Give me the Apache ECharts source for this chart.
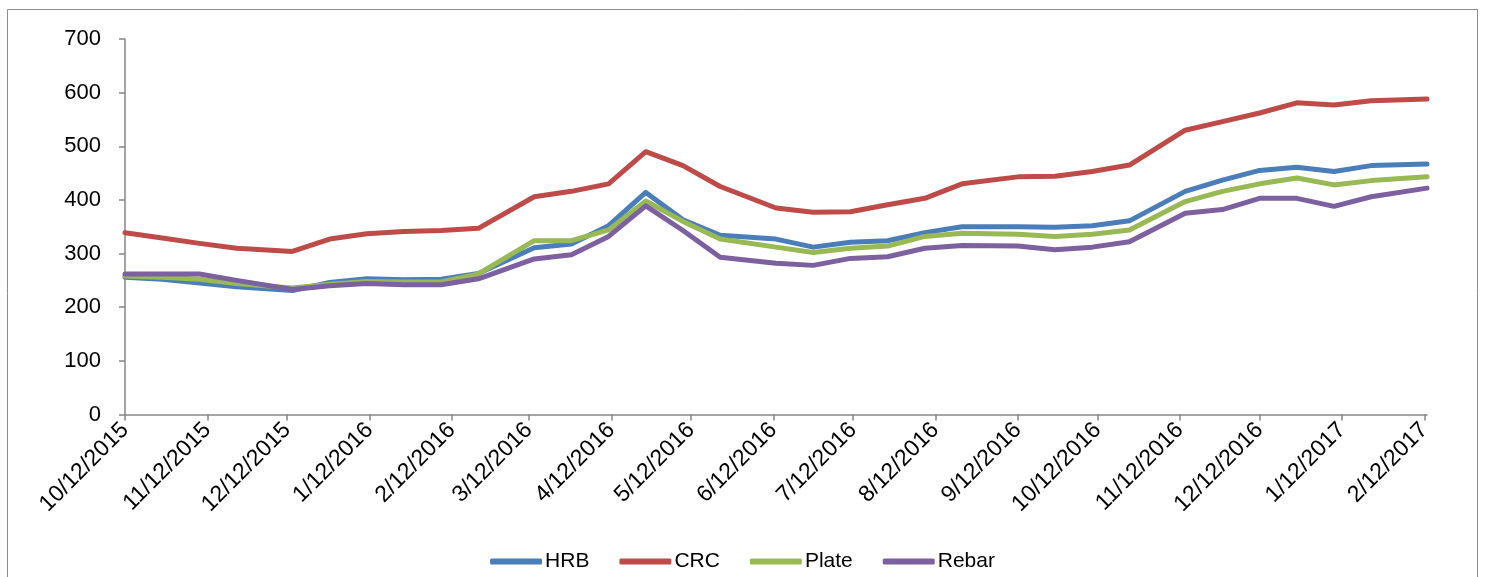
<!DOCTYPE html>
<html>
<head>
<meta charset="utf-8">
<script src="https://cdn.jsdelivr.net/npm/echarts@6/dist/echarts.min.js"></script>
<style>
html,body{margin:0;padding:0;background:#fff;}
#chart{width:1485px;height:577px;}
</style>
</head>
<body>
<div id="chart"></div>
<script>
// Observation dates (2nd and 4th Monday of each month)
const dates = ['2015-10-12','2015-10-26','2015-11-09','2015-11-23','2015-12-14','2015-12-28',
  '2016-01-11','2016-01-25','2016-02-08','2016-02-22','2016-03-14','2016-03-28',
  '2016-04-11','2016-04-25','2016-05-09','2016-05-23','2016-06-13','2016-06-27',
  '2016-07-11','2016-07-25','2016-08-08','2016-08-22','2016-09-12','2016-09-26',
  '2016-10-10','2016-10-24','2016-11-14','2016-11-28','2016-12-12','2016-12-26',
  '2017-01-09','2017-01-23','2017-02-13'];
const hrb   = [256,252,245,238,231,246,253,251,252,263,311,318,352,414,363,334,327,312,321,324,339,350,350,349,352,361,416,437,455,461,453,464,467];
const crc   = [339,329,319,310,304,327,337,341,343,347,406,416,430,490,464,425,385,377,378,391,403,430,443,444,453,465,530,546,562,581,577,585,588];
const plate = [258,256,252,244,236,243,248,247,247,262,324,324,344,398,360,327,312,302,310,314,332,338,336,332,336,344,397,416,430,441,428,436,443];
const rebar = [262,262,262,250,233,240,244,242,242,253,290,298,332,389,343,293,282,278,291,294,310,315,314,307,312,322,375,382,403,403,388,406,422];
const tickLabels = ['10/12/2015','11/12/2015','12/12/2015','1/12/2016','2/12/2016','3/12/2016','4/12/2016',
  '5/12/2016','6/12/2016','7/12/2016','8/12/2016','9/12/2016','10/12/2016','11/12/2016','12/12/2016',
  '1/12/2017','2/12/2017'];
const yTicks = [0,100,200,300,400,500,600,700];

function isoToTs(s){const p=s.split('-').map(Number);return Date.UTC(p[0],p[1]-1,p[2]);}
function mdyToTs(s){const p=s.split('/').map(Number);return Date.UTC(p[2],p[0]-1,p[1]);}
function fmt(ts){const d=new Date(ts);return (d.getUTCMonth()+1)+'/'+d.getUTCDate()+'/'+d.getUTCFullYear();}

const xs = dates.map(isoToTs);
const tickVals = tickLabels.map(mdyToTs);
const pair = arr => arr.map((v,i)=>[xs[i],v]);

const FONT = 'Liberation Sans';
const AXIS = '#868686';
const chart = echarts.init(document.getElementById('chart'), null, {renderer:'canvas'});
const lineSeries = (name, data, color) => ({
  name, type:'line', data: pair(data), showSymbol:false, symbol:'none',
  lineStyle:{width:5, color, join:'round', cap:'round'}, itemStyle:{color},
  animation:false
});
chart.setOption({
  animation:false,
  backgroundColor:'#fff',
  graphic:[{type:'rect', shape:{x:7.5,y:9.5,width:1470,height:600}, style:{fill:'none', stroke:'#8c8c8c', lineWidth:1}, silent:true}],
  grid:{left:125, right:58, top:39, bottom:162.5, containLabel:false},
  legend:{bottom:0, left:'center', icon:'roundRect', itemWidth:52, itemHeight:6, itemGap:30,
    textStyle:{fontFamily:FONT, fontSize:21, color:'#000', padding:[0,0,0,-2]},
    data:['HRB','CRC','Plate','Rebar']},
  xAxis:{type:'value', min:xs[0], max:xs[xs.length-1], splitLine:{show:false},
    axisLine:{lineStyle:{color:AXIS, width:1.5}},
    axisTick:{customValues:tickVals, length:6, lineStyle:{color:AXIS, width:1.5}},
    axisLabel:{customValues:tickVals, rotate:45, margin:12, formatter:fmt,
      fontFamily:FONT, fontSize:23, color:'#000'}},
  yAxis:{type:'value', min:0, max:700, interval:100, splitLine:{show:false},
    axisLine:{show:true, lineStyle:{color:AXIS, width:1.5}},
    axisTick:{show:true, length:6, lineStyle:{color:AXIS, width:1.5}},
    axisLabel:{customValues:yTicks, margin:24, fontFamily:FONT, fontSize:22, color:'#000'}},
  series:[
    lineSeries('HRB', hrb, '#4A7EBB'),
    lineSeries('CRC', crc, '#BE4B48'),
    lineSeries('Plate', plate, '#98B954'),
    lineSeries('Rebar', rebar, '#7D60A0')
  ]
});
</script>
</body>
</html>
